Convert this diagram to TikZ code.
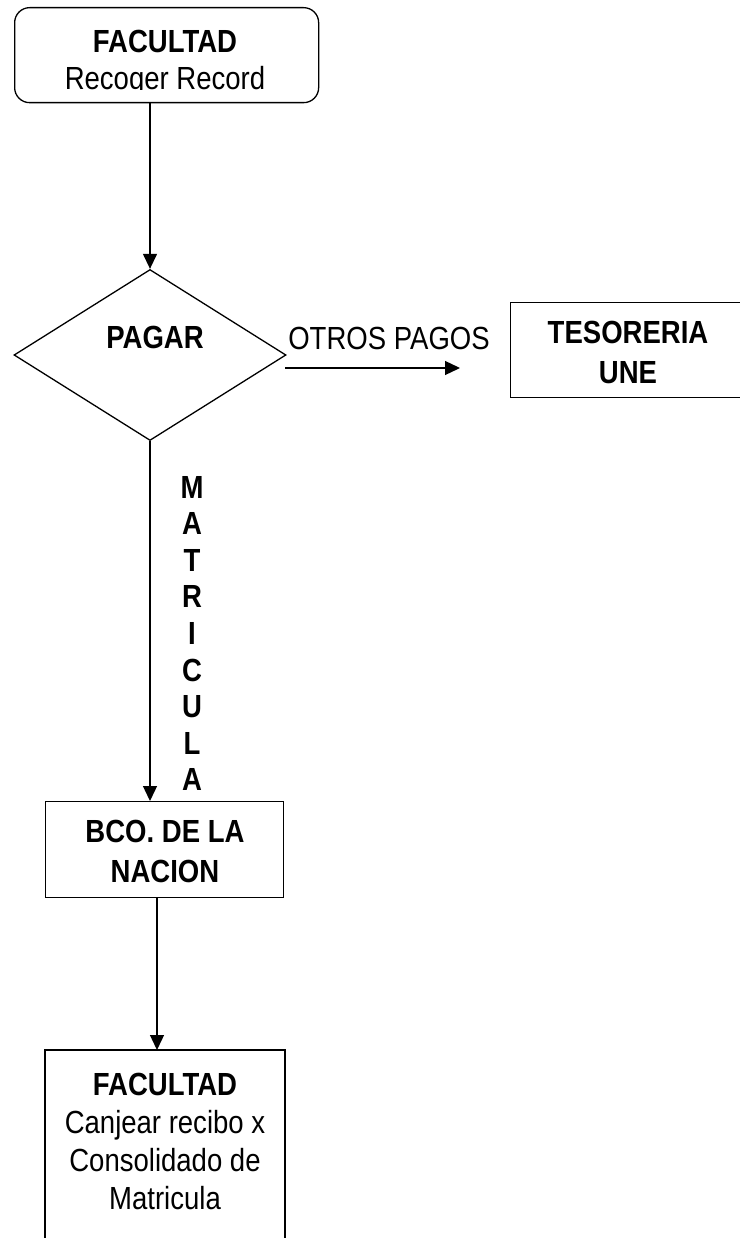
\documentclass[tikz,border=0pt]{standalone}
\usepackage{fontspec}
\setmainfont{Liberation Sans}[FakeStretch=0.86]
\usetikzlibrary{arrows.meta,shapes.geometric}
\begin{document}
\begin{tikzpicture}[x=1pt,y=-1pt,
  line width=1.3pt,
  box/.style={draw,rectangle,inner sep=0pt,anchor=north west},
  txt/.style={font=\fontsize{32}{40}\selectfont,align=center,inner sep=0pt},
  bold/.style={txt,font=\fontsize{32}{40}\selectfont\bfseries},
  arr/.style={-{Triangle[width=14pt,length=15pt]}}]
\useasboundingbox (0,0) rectangle (739,1238);
% top box
\node[box,rounded corners=15pt,minimum width=304pt,minimum height=95pt] (top) at (14,7) {};
\node[bold] (t1) at (165,41) {FACULTAD};
\begin{scope}
\clip (14,60) rectangle (317,90);
\node[txt] (t2) at (165,81) {Recoger Record};
\end{scope}
% diamond
\node[draw,diamond,inner sep=0pt,minimum width=272pt,minimum height=171pt] (pagar) at (150,355) {};
\node[bold] (pt) at (155,337) {PAGAR};
% tesoreria
\node[box,minimum width=240pt,minimum height=95pt] (teso) at (510,302) {};
\node[bold,align=center] (tt) at (628,352) {TESORERIA\\UNE};
% otros pagos
\node[txt] (otros) at (389,338) {OTROS PAGOS};
\coordinate (a2s) at (285,368);
\coordinate (a2e) at (460,368);
\draw[arr] (a2s) -- (a2e);
% arrow top -> diamond
\coordinate (a1s) at (pagar.north |- top.south);
\draw[arr] (a1s) -- (pagar.north);
% bco
\node[box,minimum width=238pt,minimum height=96pt] (bco) at (45,801) {};
\node[bold] (bt) at (165,851) {BCO. DE LA\\NACION};
\coordinate (a3e) at (pagar.south |- bco.north);
\draw[arr] (pagar.south) -- (a3e);
% matricula
\foreach \l [count=\i from 0] in {M,A,T,R,I,C,U,L,A}
  \node[bold] (m\i) at (192,487+\i*36.6) {\l};
% bottom box
\draw (45,1250) -- (45,1050) -- (285,1050) -- (285,1250);
\coordinate (ffb) at (157,1050);
\coordinate (a4s) at (ffb |- bco.south);
\draw[arr] (a4s) -- (ffb);
\node[txt,font=\fontsize{32}{38}\selectfont] (f2) at (165,1141) {\textbf{FACULTAD}\\Canjear recibo x\\Consolidado de\\Matricula};
\end{tikzpicture}
\end{document}
